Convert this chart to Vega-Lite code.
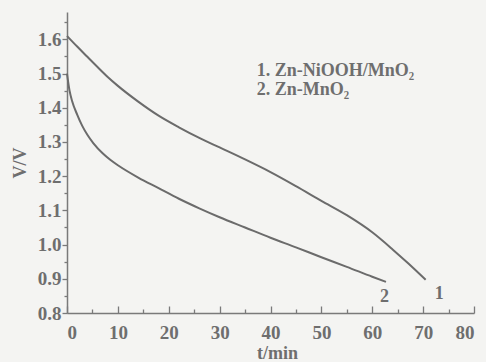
{
  "$schema": "https://vega.github.io/schema/vega-lite/v6.json",
  "width": 407,
  "height": 301,
  "autosize": "none",
  "padding": {"left": 67, "top": 12, "right": 12, "bottom": 49},
  "background": "#f4f4f2",
  "config": {
    "view": {"stroke": null},
    "axis": {
      "labelFont": "Liberation Serif",
      "titleFont": "Liberation Serif",
      "labelFontWeight": "bold",
      "titleFontWeight": "bold",
      "labelColor": "#6e6e6e",
      "titleColor": "#6e6e6e",
      "domainColor": "#7a7a7a",
      "tickColor": "#7a7a7a",
      "domainWidth": 1.5,
      "tickWidth": 1.3,
      "grid": false,
      "labelFontSize": 19,
      "titleFontSize": 18
    }
  },
  "resolve": {"axis": {"x": "independent", "y": "independent"}},
  "layer": [
    {
      "data": {
        "values": [
          {"s": "1", "t": 0, "v": 1.61},
          {"s": "1", "t": 2, "v": 1.579},
          {"s": "1", "t": 4, "v": 1.549},
          {"s": "1", "t": 6, "v": 1.519},
          {"s": "1", "t": 8, "v": 1.49},
          {"s": "1", "t": 10, "v": 1.464},
          {"s": "1", "t": 14, "v": 1.418},
          {"s": "1", "t": 18, "v": 1.377},
          {"s": "1", "t": 22, "v": 1.343},
          {"s": "1", "t": 26, "v": 1.312},
          {"s": "1", "t": 30, "v": 1.284},
          {"s": "1", "t": 35, "v": 1.249},
          {"s": "1", "t": 40, "v": 1.212},
          {"s": "1", "t": 45, "v": 1.171},
          {"s": "1", "t": 50, "v": 1.128},
          {"s": "1", "t": 55, "v": 1.086},
          {"s": "1", "t": 60, "v": 1.036},
          {"s": "1", "t": 64, "v": 0.986},
          {"s": "1", "t": 67, "v": 0.946},
          {"s": "1", "t": 70.5, "v": 0.897},
          {"s": "2", "t": 0, "v": 1.5},
          {"s": "2", "t": 0.5, "v": 1.45},
          {"s": "2", "t": 1, "v": 1.42},
          {"s": "2", "t": 2, "v": 1.38},
          {"s": "2", "t": 3, "v": 1.347},
          {"s": "2", "t": 4, "v": 1.321},
          {"s": "2", "t": 5.2, "v": 1.296},
          {"s": "2", "t": 7, "v": 1.267},
          {"s": "2", "t": 8.5, "v": 1.248},
          {"s": "2", "t": 10, "v": 1.232},
          {"s": "2", "t": 14, "v": 1.196},
          {"s": "2", "t": 18, "v": 1.165},
          {"s": "2", "t": 22, "v": 1.134},
          {"s": "2", "t": 26, "v": 1.106},
          {"s": "2", "t": 30, "v": 1.08},
          {"s": "2", "t": 35, "v": 1.05},
          {"s": "2", "t": 40, "v": 1.02},
          {"s": "2", "t": 45, "v": 0.992},
          {"s": "2", "t": 50, "v": 0.963},
          {"s": "2", "t": 55, "v": 0.935},
          {"s": "2", "t": 60, "v": 0.906},
          {"s": "2", "t": 62.7, "v": 0.891}
        ]
      },
      "mark": {"type": "line", "interpolate": "monotone", "strokeWidth": 2, "color": "#6b6b6b"},
      "encoding": {
        "x": {
          "field": "t", "type": "quantitative",
          "scale": {"domain": [0, 80], "nice": false},
          "axis": {"values": [0, 10, 20, 30, 40, 50, 60, 70, 80], "tickSize": -7, "labelPadding": 17, "title": "t/min", "titlePadding": 2, "titleX": 210}
        },
        "y": {
          "field": "v", "type": "quantitative",
          "scale": {"domain": [0.8, 1.68], "nice": false, "zero": false},
          "axis": {"values": [0.8, 0.9, 1.0, 1.1, 1.2, 1.3, 1.4, 1.5, 1.6], "format": ".1f", "tickSize": 5, "labelPadding": 1, "title": "V/V", "titlePadding": 8}
        },
        "detail": {"field": "s"}
      }
    },
    {
      "data": {
        "values": [
          {"t": 37.3, "v": 1.508, "label": "1. Zn-NiOOH/MnO₂"},
          {"t": 37.3, "v": 1.452, "label": "2. Zn-MnO₂"},
          {"t": 72.3, "v": 0.857, "label": "1"},
          {"t": 61.5, "v": 0.848, "label": "2"}
        ]
      },
      "mark": {"type": "text", "align": "left", "baseline": "middle", "font": "Liberation Serif", "fontWeight": "bold", "fontSize": 18, "color": "#6e6e6e"},
      "encoding": {
        "x": {"field": "t", "type": "quantitative", "axis": {"values": [5, 15, 25, 35, 45, 55, 65, 75], "tickSize": -4, "labels": false, "title": null, "domain": false, "orient": "bottom"}},
        "y": {"field": "v", "type": "quantitative", "axis": {"values": [0.85, 0.95, 1.05, 1.15, 1.25, 1.35, 1.45, 1.55, 1.65], "tickSize": 3, "labels": false, "title": null, "domain": false, "orient": "left"}},
        "text": {"field": "label"}
      }
    }
  ]
}
